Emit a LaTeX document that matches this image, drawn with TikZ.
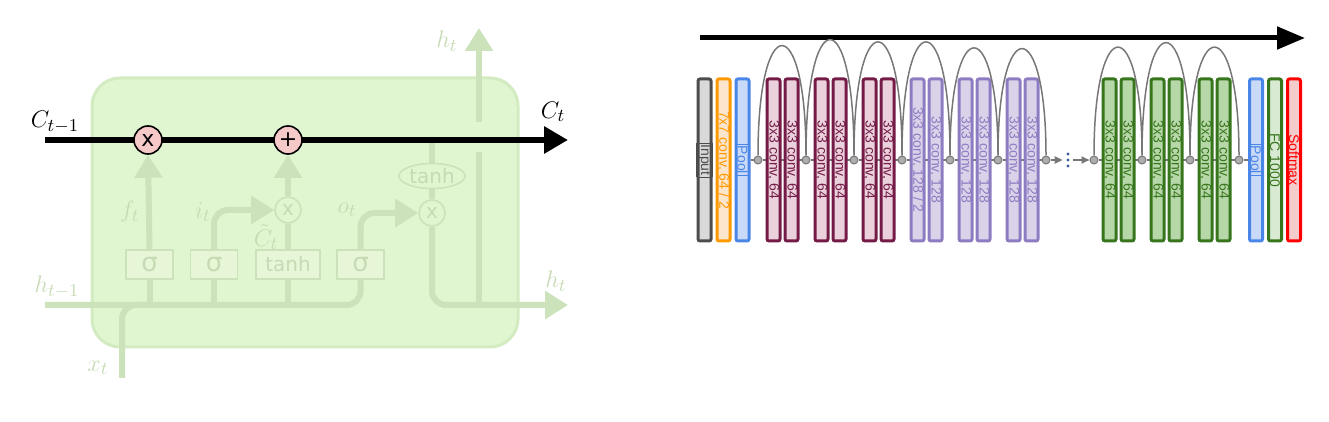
\documentclass[tikz,border=0pt]{standalone}
\usepackage{fontspec}
\setsansfont{Liberation Sans}
\newfontfamily\lstmfont{DejaVu Sans}
\usetikzlibrary{positioning,arrows.meta,shapes.geometric}

\definecolor{cellbg}{HTML}{E0F6D0}
\definecolor{celledge}{HTML}{D3EBC0}
\definecolor{faded}{HTML}{CCE2BA}
\definecolor{fadedtext}{HTML}{C6DBB4}
\definecolor{gatebg}{HTML}{E6F6D7}
\definecolor{opfill}{HTML}{F6C9C9}
\definecolor{inputfill}{HTML}{D9D9D9}
\definecolor{inputdraw}{HTML}{4D4D4D}
\definecolor{orangefill}{HTML}{FCE5CD}
\definecolor{orangedraw}{HTML}{FF9900}
\definecolor{poolfill}{HTML}{C9DAF8}
\definecolor{pooldraw}{HTML}{4A86E8}
\definecolor{maroonfill}{HTML}{EAD1DC}
\definecolor{maroondraw}{HTML}{741B47}
\definecolor{lavfill}{HTML}{D9D2E9}
\definecolor{lavdraw}{HTML}{8E7CC3}
\definecolor{greenfill}{HTML}{B6D7A8}
\definecolor{greendraw}{HTML}{38761D}
\definecolor{fcfill}{HTML}{D9EAD3}
\definecolor{smfill}{HTML}{F4CCCC}
\definecolor{smdraw}{HTML}{FF0000}
\definecolor{linkgray}{HTML}{777777}
\definecolor{dotblue}{HTML}{3D5A99}

\pgfdeclarelayer{background}
\pgfsetlayers{background,main}

\newcommand{\framedtxt}[1]{\setlength\fboxsep{0.6pt}\setlength\fboxrule{0.3pt}\fbox{#1}}

\begin{document}
\begin{tikzpicture}[x=0.5pt,y=-0.5pt,
  gatebox/.style={rectangle, draw=faded, fill=gatebg, line width=0.8pt, minimum width=23.5pt, minimum height=14.5pt, inner sep=0pt, text=fadedtext, font=\lstmfont\fontsize{13}{13}\selectfont},
  tanhbox/.style={gatebox, minimum width=32pt, font=\lstmfont\fontsize{10}{10}\selectfont},
  pointop/.style={circle, draw=black, fill=opfill, line width=0.8pt, minimum size=14pt, inner sep=0pt, font=\lstmfont\fontsize{11}{11}\selectfont},
  fadedop/.style={circle, draw=faded, fill=cellbg, line width=0.8pt, minimum size=13pt, inner sep=0pt, text=fadedtext, font=\lstmfont\fontsize{10}{10}\selectfont},
  fadedoval/.style={ellipse, draw=faded, fill=cellbg, line width=0.8pt, minimum width=33pt, minimum height=12.5pt, inner sep=0pt, text=fadedtext, font=\lstmfont\fontsize{10}{10}\selectfont},
  fadedline/.style={draw=faded, line width=3pt, rounded corners=7pt},
  fadedarrow/.style={fadedline, -{Triangle[length=11.5pt,width=13.5pt]}},
  cellline/.style={draw=black, line width=3pt, -{Triangle[length=12pt,width=13pt]}},
  mathlbl/.style={inner sep=0pt, font=\fontsize{12.5}{14}\selectfont},
  fadedlbl/.style={mathlbl, text=fadedtext},
  netbox/.style={rectangle, rounded corners=1pt, line width=1.5pt, minimum width=6.5pt, minimum height=81pt, inner sep=0pt},
  nettext/.style={rotate=-90, anchor=center, inner sep=0pt, font=\sffamily\fontsize{7}{7}\selectfont},
  inputbox/.style={netbox, draw=inputdraw, fill=inputfill},
  orangebox/.style={netbox, draw=orangedraw, fill=orangefill},
  poolbox/.style={netbox, draw=pooldraw, fill=poolfill},
  maroonbox/.style={netbox, draw=maroondraw, fill=maroonfill},
  lavbox/.style={netbox, draw=lavdraw, fill=lavfill},
  greenbox/.style={netbox, draw=greendraw, fill=greenfill},
  fcbox/.style={netbox, draw=greendraw, fill=fcfill},
  smbox/.style={netbox, draw=smdraw, fill=smfill},
  joint/.style={circle, draw=linkgray, fill=linkgray!60, line width=0.5pt, minimum size=4pt, inner sep=0pt},
  skiparc/.style={draw=linkgray, line width=0.75pt},
  linkline/.style={draw=linkgray, line width=1pt},
  linkarrow/.style={linkline, -{Triangle[length=4pt,width=3.5pt]}},
  timeline/.style={draw=black, line width=2.5pt, -{Triangle[length=14pt,width=11pt]}}]

\useasboundingbox (0,0) rectangle (1329,422);

% LSTM cell
\fill[draw=celledge, fill=cellbg, line width=1.5pt, rounded corners=14pt] (92,78) rectangle (518,347);

\node[gatebox] (s1) at (149.5,264.5) {σ};
\node[gatebox] (s2) at (214,264.5) {σ};
\node[tanhbox] (tb) at (288,264.5) {tanh};
\node[gatebox] (s4) at (360.5,264.5) {σ};
\node[fadedop] (imul) at (288,210) {x};
\node[fadedop] (omul) at (432,213) {x};
\node[fadedoval] (th) at (432,176) {tanh};

\coordinate (hin) at (45,305);
\coordinate (xin) at (122,378);
\coordinate (hout) at (568,305);
\coordinate (cin) at (45,140);
\coordinate (cout) at (568,140);
\coordinate (hup) at (479,305);
\coordinate (hgapb) at (479,152);
\coordinate (hgapt) at (479,122);
\coordinate (htop) at (479,28);

\draw[fadedline] (hin) -| (s4.south);
\draw[fadedline] (xin) |- (s1.south |- hin);
\draw[fadedline] (s1.south |- hin) -- (s1.south);
\draw[fadedline] (s2.south |- hin) -- (s2.south);
\draw[fadedline] (tb.south |- hin) -- (tb.south);
\draw[fadedline] (tb.north) -- (imul.south);
\draw[fadedarrow] (s2.north) |- (imul.west);
\draw[fadedarrow] (s4.north) |- (omul.west);
\draw[fadedline] (th.north |- cin) -- (th.north);
\draw[fadedline] (th.south) -- (omul.north);
\draw[fadedarrow] (omul.south) |- (hout);
\draw[fadedline] (hup) -- (hgapb);
\draw[fadedarrow] (hgapt) -- (htop);

% cell state
\draw[cellline] (cin) -- (cout);
\node[pointop] (fmul) at (148,140) {x};
\node[pointop] (add) at (288,140) {+};
\draw[fadedarrow] (s1.north) -- (fmul.south);
\draw[fadedarrow] (imul.north) -- (add.south);

\node[mathlbl] (lcprev) at (55,122) {$C_{t-1}$};
\node[mathlbl] (lcnext) at (553,112) {$C_t$};
\node[fadedlbl] (lf) at (130,212) {$f_t$};
\node[fadedlbl] (li) at (203,212) {$i_t$};
\node[fadedlbl] (lct) at (266,237) {$\tilde{C}_t$};
\node[fadedlbl] (lo) at (347,210) {$o_t$};
\node[fadedlbl] (lhtop) at (447,41) {$h_t$};
\node[fadedlbl] (lhout) at (556,281) {$h_t$};
\node[fadedlbl] (lhin) at (57,287) {$h_{t-1}$};
\node[fadedlbl] (lx) at (98,368) {$x_t$};

% residual network
\coordinate (ts) at (700,38);
\coordinate (te) at (1305,38);
\draw[timeline] (ts) -- (te);

\node[inputbox, label={[nettext, text=inputdraw]center:\framedtxt{Input}}] (inp) at (704.5,160) {};
\node[orangebox, label={[nettext, text=orangedraw]center:7x7 conv, 64 / 2}] (c7) at (723.5,160) {};
\node[poolbox, label={[nettext, text=pooldraw]center:\framedtxt{Pool}}] (pool1) at (742.5,160) {};

\foreach \nx [count=\i] in {758,806,854,902,950,998,1046,1094,1142,1190,1239}
  \node[joint] (j\i) at (\nx,160) {};

\foreach \nx/\sty/\col/\ta/\tb [count=\i] in {758/maroonbox/maroondraw/{3x3 conv, 64}/{3x3 conv, 64},
    806/maroonbox/maroondraw/{3x3 conv, 64}/{3x3 conv, 64},
    854/maroonbox/maroondraw/{3x3 conv, 64}/{3x3 conv, 64},
    902/lavbox/lavdraw/{3x3 conv, 128 / 2}/{3x3 conv, 128},
    950/lavbox/lavdraw/{3x3 conv, 128}/{3x3 conv, 128},
    998/lavbox/lavdraw/{3x3 conv, 128}/{3x3 conv, 128},
    1094/greenbox/greendraw/{3x3 conv, 64}/{3x3 conv, 64},
    1142/greenbox/greendraw/{3x3 conv, 64}/{3x3 conv, 64},
    1190/greenbox/greendraw/{3x3 conv, 64}/{3x3 conv, 64}} {
  \node[\sty, label={[nettext, text=\col]center:\ta}] (ca\i) at (\nx+15.5,160) {};
  \node[\sty, label={[nettext, text=\col]center:\tb}] (cb\i) at (\nx+33.5,160) {};
}

\node[poolbox, label={[nettext, text=pooldraw]center:\framedtxt{Pool}}] (pool2) at (1256,160) {};
\node[fcbox, label={[nettext, text=greendraw]center:FC 1000}] (fc) at (1275,160) {};
\node[smbox, label={[nettext, text=smdraw]center:Softmax}] (sm) at (1294,160) {};

\begin{pgfonlayer}{background}
  \draw[linkline] (pool1) -- (j1) -- (j2) -- (j3) -- (j4) -- (j5) -- (j6) -- (j7);
  \draw[linkline] (j8) -- (j9) -- (j10) -- (j11) -- (pool2);
\end{pgfonlayer}

\foreach \a/\b/\h in {1/2/151,2/3/159,3/4/156,4/5/156,5/6/148,6/7/147,8/9/149,9/10/155,10/11/149}
  \draw[skiparc] (j\a) .. controls +(0,-\h) and +(0,-\h) .. (j\b);

\node[inner sep=0pt, minimum width=5pt, minimum height=8pt] (dots) at (1068,160) {};
\foreach \dy in {-6,0,6}
  \fill[dotblue] (dots.center) ++(0,\dy) circle (0.8pt);
\draw[linkarrow] (j7) -- (dots);
\draw[linkarrow] (dots) -- (j8);

\end{tikzpicture}
\end{document}
